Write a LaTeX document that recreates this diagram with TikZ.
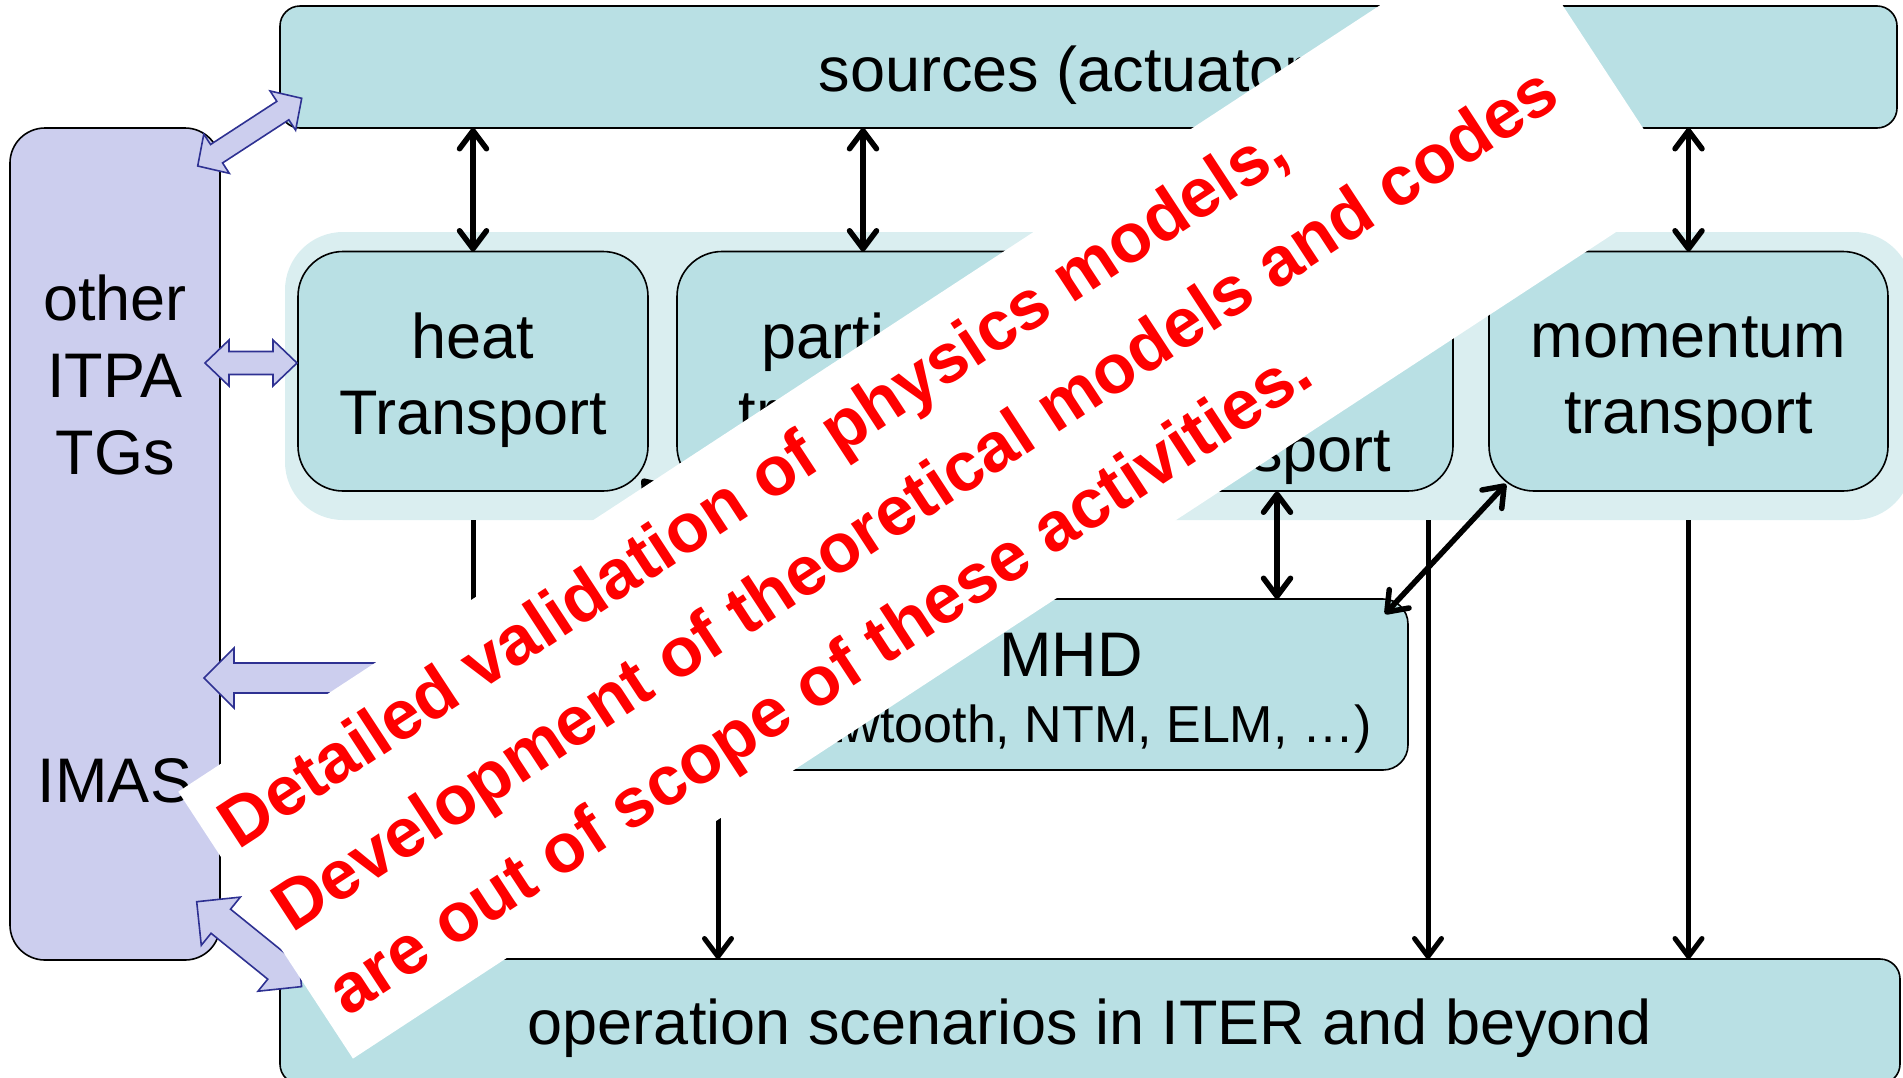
\documentclass[tikz,border=0pt]{standalone}
\usepackage{fontspec}
\setmainfont{Liberation Sans}
\usetikzlibrary{arrows.meta,calc}
\definecolor{boxc}{RGB}{185,224,228}
\definecolor{panelc}{RGB}{218,238,240}
\definecolor{purplec}{RGB}{204,206,238}
\definecolor{navyc}{RGB}{46,49,146}
% double-headed block arrow: #1 start tip, #2 end tip, #3 head length, #4 head half width, #5 shaft half width
\newcommand\dblockarrow[5]{%
  \coordinate (ba-a) at ($(#1)!#3!(#2)$);
  \coordinate (ba-b) at ($(#2)!#3!(#1)$);
  \draw[blockarrow] (#1) -- ($(ba-a)!#4!90:(#2)$) -- ($(ba-a)!#5!90:(#2)$)
    -- ($(ba-b)!#5!-90:(#1)$) -- ($(ba-b)!#4!-90:(#1)$) -- (#2)
    -- ($(ba-b)!#4!90:(#1)$) -- ($(ba-b)!#5!90:(#1)$)
    -- ($(ba-a)!#5!-90:(#2)$) -- ($(ba-a)!#4!-90:(#2)$) -- cycle;}
% single-headed block arrow: #1 tip, #2 tail
\newcommand\sblockarrow[5]{%
  \coordinate (ba-a) at ($(#1)!#3!(#2)$);
  \draw[blockarrow] (#1) -- ($(ba-a)!#4!90:(#2)$) -- ($(ba-a)!#5!90:(#2)$)
    -- ($(#2)!#5!-90:(#1)$) -- ($(#2)!#5!90:(#1)$)
    -- ($(ba-a)!#5!-90:(#2)$) -- ($(ba-a)!#4!-90:(#2)$) -- cycle;}
\begin{document}
\begin{tikzpicture}[x=1pt,y=-1pt]
\tikzset{
  myb/.tip={Straight Barb[length=18pt,width=27pt,round]},
  box/.style={draw=black, line width=1.6pt, fill=boxc, inner sep=0pt, outer sep=0pt},
  big/.style={anchor=base, inner sep=0pt, font=\fontsize{63}{76}\selectfont},
  conn/.style={line width=5.5pt, myb-myb},
  down/.style={line width=5pt, -myb},
  blockarrow/.style={draw=navyc, fill=purplec, line width=1.6pt, line join=miter},
  bt/.style={anchor=base west, inner sep=0pt, text=red, font=\bfseries\fontsize{69.5}{80}\selectfont}
}
\useasboundingbox (0,0) rectangle (1903,1077);
\clip (0,0) rectangle (1903,1077);

% background panel
\node[fill=panelc, rounded corners=58pt, minimum width=1627pt, minimum height=288pt, inner sep=0pt] (panel) at (1098.5,376) {};

% boxes
\node[box, rounded corners=20pt, minimum width=1617pt, minimum height=122pt] (sources) at (1088.5,67) {};
\node[box, fill=purplec, rounded corners=35pt, minimum width=210pt, minimum height=832pt] (itpa) at (115,544) {};
\node[box, rounded corners=45pt, minimum width=350pt, minimum height=239.5pt] (heat) at (473,371.25) {};
\node[box, rounded corners=45pt, minimum width=372pt, minimum height=239.5pt] (particle) at (863,371.25) {};
\node[box, rounded corners=45pt, minimum width=372pt, minimum height=239.5pt] (fast) at (1267,371.25) {};
\node[box, rounded corners=45pt, minimum width=399pt, minimum height=239.5pt] (momentum) at (1688.5,371.25) {};
\node[box, rounded corners=25pt, minimum width=674pt, minimum height=171pt] (mhd) at (1071,684.5) {};
\node[box, rounded corners=20pt, minimum width=1620pt, minimum height=125pt] (oper) at (1090,1021.5) {};

% texts
\node[big] (tsrc) at (1088.5,91) {sources (actuators)};
\node[big] (toth1) at (115,320) {other};
\node[big] (toth2) at (115,397) {ITPA};
\node[big] (toth3) at (115,474) {TGs};
\node[big] (timas) at (115,802) {IMAS};
\node[big] (theat1) at (473,358) {heat};
\node[big] (theat2) at (473,434) {Transport};
\node[big] (tpart1) at (863,358) {particle};
\node[big] (tpart2) at (863,434) {transport};
\node[big] (tfast3) at (1267,471) {transport};
\node[big] (tmom1) at (1688.5,357) {momentum};
\node[big] (tmom2) at (1688.5,433) {transport};
\node[big] (tmhd1) at (1071,676) {MHD};
\node[big, font=\fontsize{52}{62}\selectfont] (tmhd2) at (1071,742) {(sawtooth, NTM, ELM, …)};
\node[big] (toper) at (1090,1044) {operation scenarios in ITER and beyond};

% black connectors
\draw[conn] (sources.south -| heat.north) -- (heat.north);
\draw[conn] (sources.south -| particle.north) -- (particle.north);
\draw[conn] (sources.south -| momentum.north) -- (momentum.north);
\coordinate (fm) at (1277,491.5);
\draw[conn] (fm) -- (fm |- mhd.north);
\coordinate (mo1) at (1506,484);
\coordinate (mh1) at (1385,614);
\draw[conn] (mo1) -- (mh1);
\coordinate (he1) at (642,479);
\coordinate (mh2) at (757,614);
\draw[conn] (he1) -- (mh2);
\draw[down] (heat.south |- panel.south) -- (heat.south |- oper.north);
\coordinate (pd) at (718,520);
\draw[down] (pd) -- (pd |- oper.north);
\coordinate (fd) at (1428,520);
\draw[down] (fd) -- (fd |- oper.north);
\draw[down] (momentum.south |- panel.south) -- (momentum.south |- oper.north);

% block arrows
\coordinate (ba1s) at (197.7,166);
\coordinate (ba1e) at (301.7,98.3);
\dblockarrow{ba1s}{ba1e}{22.5pt}{23.4pt}{11pt}
\coordinate (ba2s) at (205,363);
\coordinate (ba2e) at (297,363);
\dblockarrow{ba2s}{ba2e}{24pt}{23pt}{11.5pt}
\coordinate (ba3t) at (204,678);
\coordinate (ba3e) at (mhd.west |- ba3t);
\sblockarrow{ba3t}{ba3e}{30pt}{30pt}{15pt}
\coordinate (ba4s) at (196.7,901.7);
\coordinate (ba4e) at (301.6,986.6);
\dblockarrow{ba4s}{ba4e}{31pt}{31pt}{15.5pt}

% overlay banner
\node[fill=white, rotate=33.2, minimum width=1589pt, minimum height=319pt, inner sep=0pt] (banner) at (930.4,490.1) {};
\begin{scope}[shift={(banner.north west)}, rotate=33.2, transform shape]
  \node[bt] (b1) at (18,82) {Detailed validation of physics models,};
  \node[bt] (b2) at (18,182) {Development of theoretical models and codes};
  \node[bt] (b3) at (18,282) {are out of scope of these activities.};
\end{scope}
\end{tikzpicture}
\end{document}
